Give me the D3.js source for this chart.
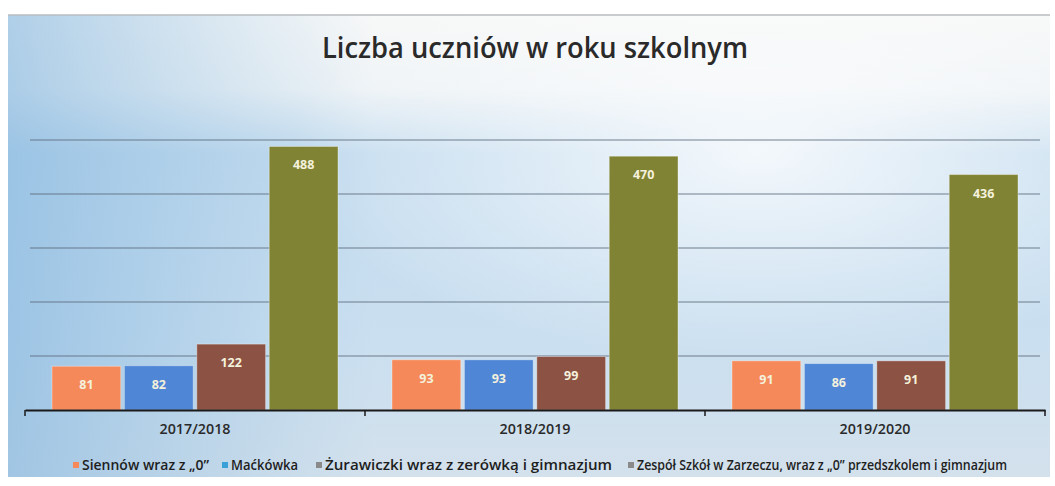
<!DOCTYPE html>
<html><head><meta charset="utf-8">
<script src="https://cdn.jsdelivr.net/npm/d3@7/dist/d3.min.js"></script>
<style>body{margin:0;background:#fff;}svg{display:block;}</style>
</head><body>
<svg id="c" width="1055" height="486"></svg>
<script>
const categories = ["2017/2018", "2018/2019", "2019/2020"];
const seriesNames = ["Siennów wraz z „0”", "Maćkówka", "Żurawiczki wraz z zerówką i gimnazjum", "Zespół Szkół w Zarzeczu, wraz z „0” przedszkolem i gimnazjum"];
const siennow = [81, 93, 91];
const mackowka = [82, 93, 86];
const zurawiczki = [122, 99, 91];
const zespol = [488, 470, 436];
const yTicks = [0, 100, 200, 300, 400, 500];
const colors = ["#f5895a", "#4f87d6", "#8c5243", "#818334"];
const legendColors = ["#f5895a", "#3aa0d8", "#8a8a8a", "#8a8a8a"];
const series = [siennow, mackowka, zurawiczki, zespol];

const svg = d3.select("#c");
const defs = svg.append("defs");
const g1 = defs.append("linearGradient").attr("id","bg").attr("x1","0").attr("y1","0").attr("x2","0").attr("y2","1");
g1.append("stop").attr("offset","0").attr("stop-color","#f7f8f8");
g1.append("stop").attr("offset","0.16").attr("stop-color","#eef3f6");
g1.append("stop").attr("offset","0.3").attr("stop-color","#c4dcef");
g1.append("stop").attr("offset","0.7").attr("stop-color","#cadff0");
g1.append("stop").attr("offset","1").attr("stop-color","#d3e1ec");
const g2 = defs.append("radialGradient").attr("id","glow").attr("cx","0.72").attr("cy","0.3").attr("r","0.45");
g2.append("stop").attr("offset","0").attr("stop-color","#ffffff").attr("stop-opacity","0.8");
g2.append("stop").attr("offset","1").attr("stop-color","#ffffff").attr("stop-opacity","0");
const g3 = defs.append("linearGradient").attr("id","leftblue").attr("x1","0").attr("y1","0").attr("x2","1").attr("y2","0");
g3.append("stop").attr("offset","0").attr("stop-color","#7fb3dd").attr("stop-opacity","0.6");
g3.append("stop").attr("offset","0.35").attr("stop-color","#8fbde0").attr("stop-opacity","0");

svg.append("rect").attr("x",8).attr("y",15).attr("width",1042).attr("height",462).attr("fill","url(#bg)");
svg.append("rect").attr("x",8).attr("y",15).attr("width",1042).attr("height",462).attr("fill","url(#leftblue)");
svg.append("rect").attr("x",8).attr("y",15).attr("width",1042).attr("height",462).attr("fill","url(#glow)");
svg.append("line").attr("x1",8).attr("x2",1050).attr("y1",15).attr("y2",15).attr("stroke","#b8bcc0").attr("stroke-width",1.5);

svg.append("text").attr("x",535).attr("y",58).attr("text-anchor","middle")
  .attr("font-family","'Open Sans', sans-serif").attr("font-weight",600).attr("font-size",29).attr("fill","#2a2a2a")
  .attr("textLength",426).attr("lengthAdjust","spacingAndGlyphs")
  .text("Liczba uczniów w roku szkolnym");

const pLeft = 25, pRight = 1045, pTop = 140, pBottom = 410;
const x0 = d3.scaleBand().domain(categories).range([pLeft, pRight]).paddingInner(0).paddingOuter(0);
const x1 = d3.scaleBand().domain(d3.range(4)).range([27, x0.bandwidth()-27]).paddingInner(0.05);
const y = d3.scaleLinear().domain([0, 500]).range([pBottom, pTop]);

svg.append("g").selectAll("line").data(yTicks.filter(d=>d>0)).join("line")
  .attr("x1", pLeft+5).attr("x2", pRight-5).attr("y1", d=>y(d)).attr("y2", d=>y(d))
  .attr("stroke","#5d6d7c").attr("stroke-width",1.2).attr("opacity",0.85);

const groups = svg.append("g").selectAll("g").data(categories).join("g")
  .attr("transform", d=>`translate(${x0(d)},0)`);
groups.each(function(cat, ci){
  const g = d3.select(this);
  series.forEach((s, si)=>{
    g.append("rect").attr("x", x1(si)).attr("y", y(s[ci])).attr("width", x1.bandwidth())
      .attr("height", y(0)-y(s[ci])).attr("fill", colors[si]).attr("stroke","rgba(255,255,255,0.35)").attr("stroke-width",1);
    g.append("text").attr("x", x1(si)+x1.bandwidth()/2).attr("y", y(s[ci])+23)
      .attr("text-anchor","middle").attr("font-family","'Open Sans', sans-serif").attr("font-weight","bold")
      .attr("font-size",12.5).attr("fill","#f4f1dc").text(s[ci]);
  });
});

const xAxis = d3.axisBottom(x0).tickSize(0).tickPadding(14);
const ax = svg.append("g").attr("transform",`translate(0,${pBottom})`).call(xAxis);
ax.select(".domain").attr("stroke","#1a1a1a").attr("stroke-width",2);
ax.selectAll("text").attr("font-family","'Open Sans', sans-serif").attr("font-weight",600).attr("font-size",14)
  .attr("fill","#2a2a2a").attr("textLength",71).attr("lengthAdjust","spacingAndGlyphs");
svg.append("g").selectAll("line").data([pLeft, x0(categories[1]), x0(categories[2]), pRight]).join("line")
  .attr("x1",d=>d).attr("x2",d=>d).attr("y1",pBottom).attr("y2",pBottom+6).attr("stroke","#1a1a1a").attr("stroke-width",1.5);

const legendX = [73, 222, 316, 628];
const legendW = [127, 67, 287, 370];
const lg = svg.append("g").selectAll("g").data(seriesNames).join("g")
  .attr("transform",(d,i)=>`translate(${legendX[i]},465)`);
lg.append("rect").attr("x",0).attr("y",-3).attr("width",6).attr("height",6).attr("fill",(d,i)=>legendColors[i]);
lg.append("text").attr("x",9).attr("y",5).attr("font-family","'Open Sans', sans-serif").attr("font-weight",600).attr("font-size",14)
  .attr("fill","#1e1e1e").attr("textLength",(d,i)=>legendW[i]).attr("lengthAdjust","spacingAndGlyphs").text(d=>d);
</script>
</body></html>
